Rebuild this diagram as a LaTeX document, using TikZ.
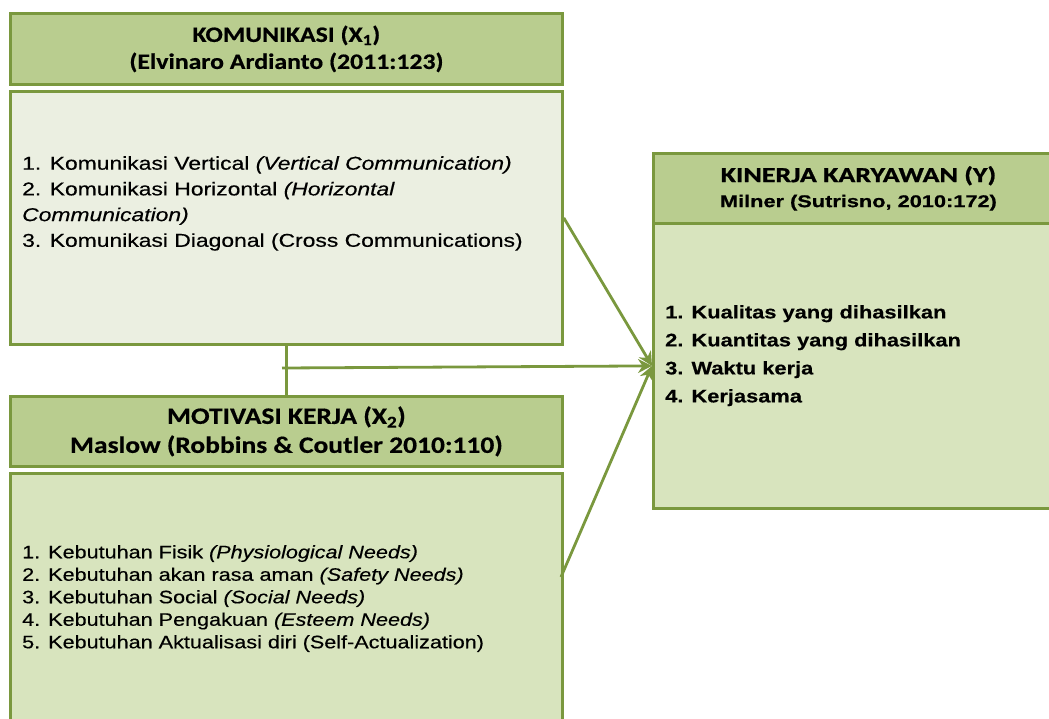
\documentclass[tikz,border=0pt]{standalone}
\usepackage{fontspec}
\setmainfont{Liberation Sans}[FakeStretch=1.2, FakeBold=0.4]
\newfontfamily\komfont{Liberation Sans}[FakeStretch=1.23, FakeBold=0.4]
\newfontfamily\headfont{Carlito}[FakeStretch=1.17, FakeBold=0.5]
\newfontfamily\kinheadfont{Carlito}[FakeStretch=1.3, FakeBold=1]
\newfontfamily\kinreffont{Liberation Sans}[FakeStretch=1.28, FakeBold=0.8]
\usetikzlibrary{arrows.meta}

\definecolor{boxline}{HTML}{7A983E}
\definecolor{headfill}{HTML}{B9CD8F}
\definecolor{palefill}{HTML}{EBEFE1}
\definecolor{greenfill}{HTML}{D8E4BE}

\tikzset{
  varbox/.style={draw=boxline, line width=2.8pt, inner sep=0pt, anchor=north west},
  headbox/.style={varbox, fill=headfill, align=center,
    font=\headfont\bfseries\fontsize{22}{27}\selectfont},
  listtext/.style={inner sep=0pt, anchor=north west, align=left},
  link/.style={draw=boxline, line width=2.8pt},
  arrowlink/.style={link, -{Stealth[length=14pt,width=14pt]}},
}

\begin{document}
\begin{tikzpicture}[x=1pt,y=-1pt]
\useasboundingbox (0,0) rectangle (1049,718);
\begin{scope}
\clip (0,0) rectangle (1049,718);

% komunikasi (X1)
\node[headbox, minimum width=552, minimum height=71] (komHead) at (9,12)
  {KOMUNIKASI (X\textsubscript{1})\\(Elvinaro Ardianto (2011:123)};
\node[varbox, fill=palefill, minimum width=552, minimum height=253] (komBody) at (9,90) {};
\node[listtext, font=\komfont\fontsize{18.6}{25.7}\selectfont] (komList) at (22,156)
  {1. Komunikasi Vertical \textit{(Vertical Communication)}\\
   2. Komunikasi Horizontal \textit{(Horizontal}\\
   \textit{Communication)}\\
   3. Komunikasi Diagonal (Cross Communications)};

% motivasi kerja (X2)
\node[headbox, minimum width=552, minimum height=70,
  font=\headfont\bfseries\fontsize{23.5}{29}\selectfont] (motHead) at (9,395)
  {MOTIVASI KERJA (X\textsubscript{2})\\Maslow (Robbins \& Coutler 2010:110)};
\node[varbox, fill=greenfill, minimum width=552, minimum height=300] (motBody) at (9,472) {};
\node[listtext, font=\fontsize{18}{22.5}\selectfont] (motList) at (22,545)
  {1. Kebutuhan Fisik \textit{(Physiological Needs)}\\
   2. Kebutuhan akan rasa aman \textit{(Safety Needs)}\\
   3. Kebutuhan Social \textit{(Social Needs)}\\
   4. Kebutuhan Pengakuan \textit{(Esteem Needs)}\\
   5. Kebutuhan Aktualisasi diri (Self-Actualization)};

% kinerja karyawan (Y)
\node[headbox, minimum width=410, minimum height=70,
  font=\kinheadfont\bfseries\fontsize{21.5}{25}\selectfont] (kinHead) at (652,152)
  {KINERJA KARYAWAN (Y)\\{\kinreffont\bfseries\fontsize{17}{24}\selectfont Milner (Sutrisno, 2010:172)}};
\node[varbox, fill=greenfill, minimum width=410, minimum height=285] (kinBody) at (652,222) {};
\node[listtext, font=\bfseries\fontsize{18.2}{28}\selectfont] (kinList) at (665,305)
  {1. Kualitas yang dihasilkan\\
   2. Kuantitas yang dihasilkan\\
   3. Waktu kerja\\
   4. Kerjasama};

% connectors
\coordinate (hub) at (282,368);
\coordinate (motOut) at (561,577);
\draw[link] (komBody.south) -- (motHead.north);
\draw[arrowlink] (hub) -- (kinBody.west);
\draw[arrowlink] (komBody.east) -- (kinBody.west);
\draw[arrowlink] (motOut) -- (kinBody.west);
\end{scope}
\end{tikzpicture}
\end{document}
